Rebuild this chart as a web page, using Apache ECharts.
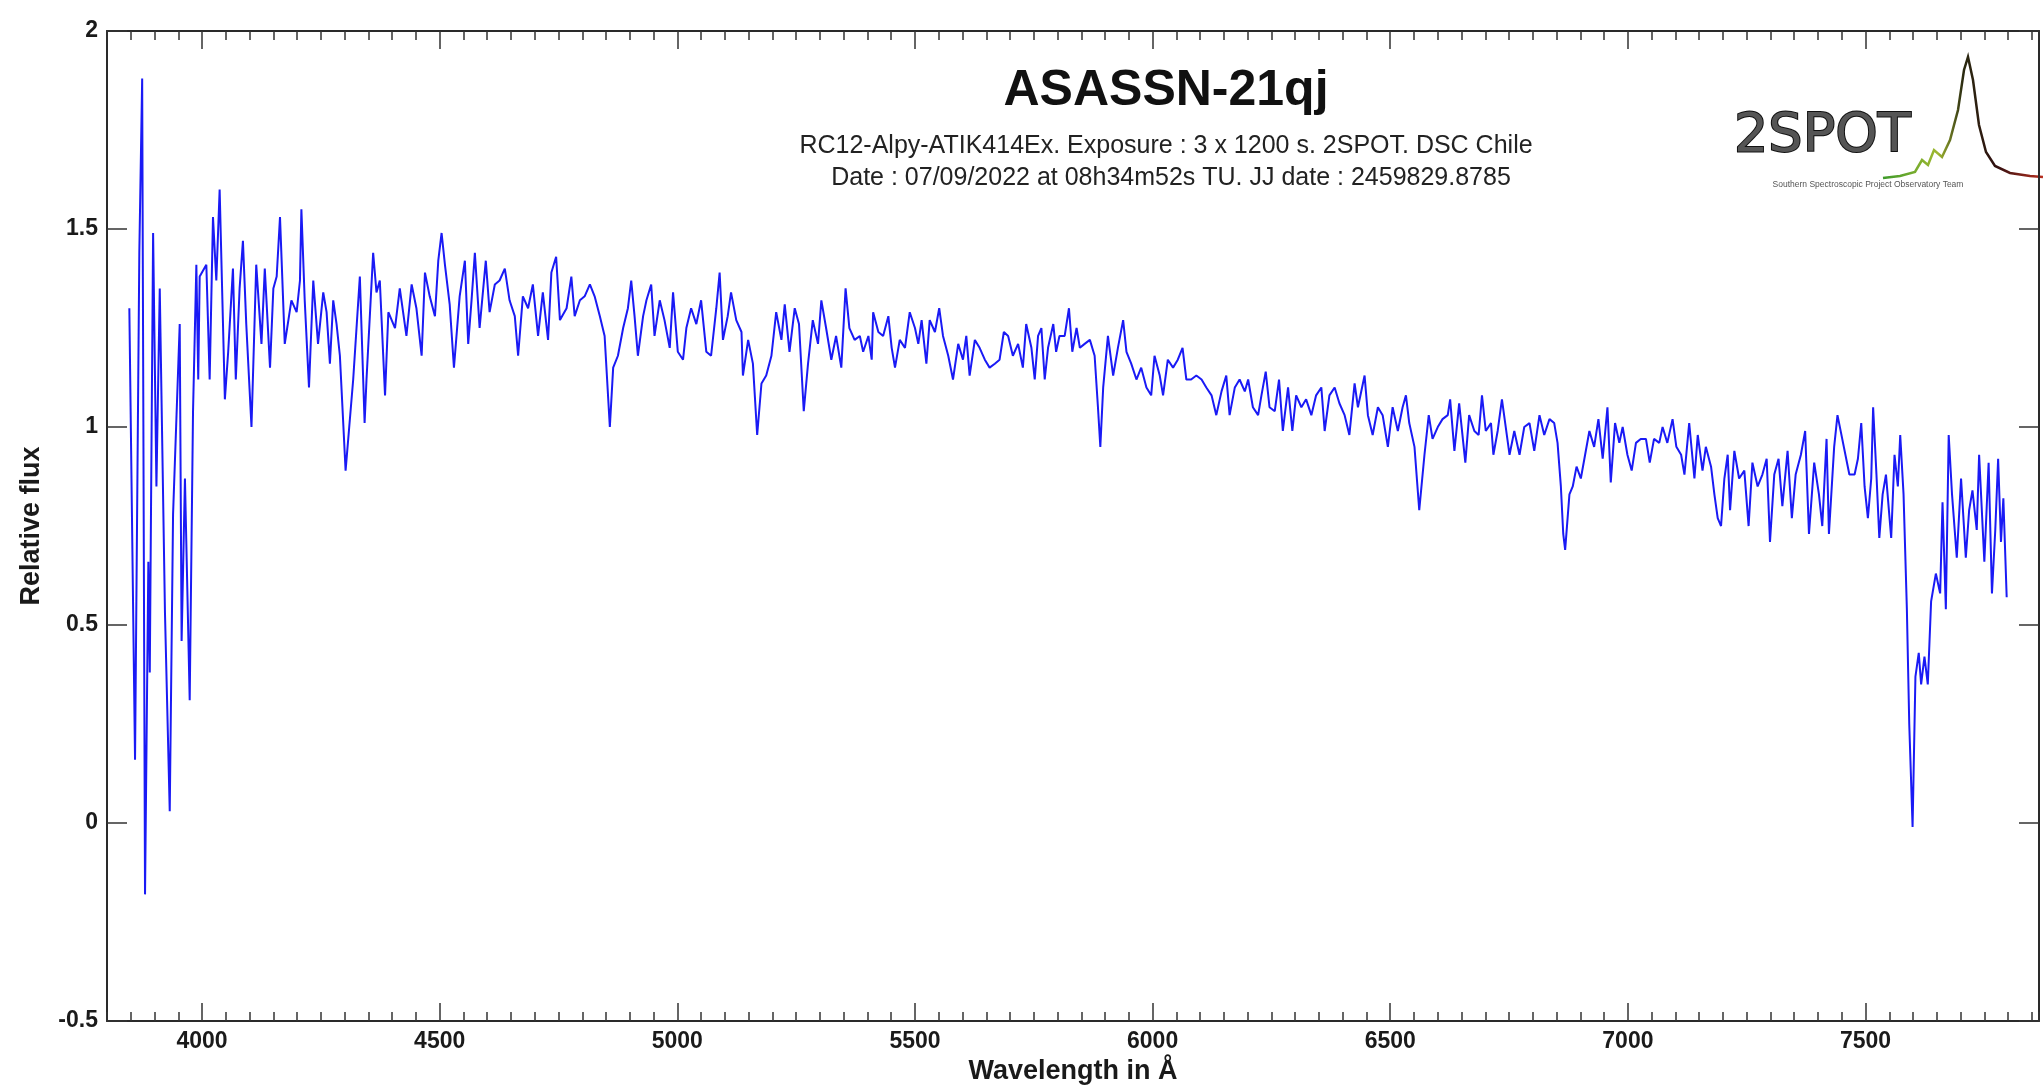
<!DOCTYPE html>
<html>
<head>
<meta charset="utf-8">
<script src="https://cdn.jsdelivr.net/npm/echarts@6/dist/echarts.min.js"></script>
<style>
html,body{margin:0;padding:0;background:#fff;}
#c{width:2043px;height:1090px;}
</style>
</head>
<body>
<div id="c"></div>
<script>
// Wavelength (Å) and relative flux
const wavelength = [
3847,3859,3868,3874,3880,3887,3890,3897,3904,3911,3922,3932,3939,3953,3957,3964,3974,3981,3988,3992,3995,
4009,4016,4023,4030,4037,4048,4055,4065,4071,4079,4086,4093,4104,4114,4125,4132,4143,4150,4157,4164,4174,
4188,4199,4206,4209,4216,4225,4234,4244,4255,4262,4269,4276,4283,4290,4302,4318,4332,4342,4346,4360,4367,
4374,4385,4392,4406,4416,4430,4441,4451,4462,4469,4479,4490,4497,4504,4511,4521,4530,4542,4553,4560,4567,
4574,4584,4597,4605,4616,4626,4637,4647,4658,4665,4675,4686,4696,4707,4717,4728,4735,4745,4753,4767,4777,
4784,4795,4805,4816,4826,4837,4847,4858,4865,4875,4886,4896,4903,4910,4917,4928,4935,4945,4952,4963,4973,
4984,4991,5001,5012,5019,5029,5040,5050,5061,5071,5082,5089,5096,5106,5113,5124,5135,5138,5149,5159,5168,
5177,5187,5198,5208,5219,5226,5236,5247,5256,5266,5275,5285,5296,5303,5313,5324,5334,5345,5354,5362,5373,
5384,5391,5402,5409,5412,5423,5433,5444,5451,5458,5468,5479,5489,5500,5507,5514,5524,5531,5542,5551,5559,
5570,5580,5591,5601,5608,5615,5626,5636,5647,5657,5668,5678,5687,5696,5706,5717,5727,5734,5745,5752,5759,
5766,5773,5780,5791,5797,5804,5815,5824,5831,5840,5847,5857,5868,5878,5885,5890,5896,5906,5917,5927,5938,
5945,5955,5966,5976,5987,5997,6004,6015,6022,6032,6043,6053,6063,6071,6081,6092,6103,6113,6124,6134,6145,
6155,6162,6173,6183,6194,6201,6211,6222,6229,6238,6246,6257,6266,6274,6285,6294,6302,6313,6323,6334,6344,
6355,6362,6372,6383,6393,6404,6414,6425,6432,6446,6453,6463,6474,6484,6495,6505,6516,6526,6533,6540,6551,
6561,6572,6581,6589,6600,6610,6621,6626,6635,6645,6658,6666,6677,6686,6693,6701,6712,6717,6726,6735,6743,
6751,6761,6772,6782,6793,6803,6814,6824,6835,6845,6852,6859,6864,6868,6877,6884,6892,6901,6910,6919,6929,
6938,6947,6957,6964,6973,6982,6989,6999,7008,7017,7027,7038,7046,7055,7066,7073,7083,7094,7102,7112,7119,
7129,7140,7147,7157,7164,7175,7182,7189,7196,7203,7210,7215,7224,7234,7245,7254,7262,7273,7283,7292,7299,
7308,7317,7325,7336,7345,7353,7364,7373,7381,7392,7402,7409,7418,7423,7434,7441,
7466,7477,7484,7491,7498,7505,7512,7516,7523,7529,7536,7543,7554,7561,7568,7573,7580,7587,7592,7599,7605,
7612,7617,7624,7631,7638,7648,7657,7662,7669,7675,7682,7692,7701,7711,7718,7725,7734,7739,7750,7759,7766,
7773,7779,7785,7790,7797
];
const flux = [
1.30,0.16,1.44,1.88,-0.18,0.66,0.38,1.49,0.85,1.35,0.53,0.03,0.78,1.26,0.46,0.87,0.31,1.04,1.41,1.12,1.38,
1.41,1.12,1.53,1.37,1.60,1.07,1.19,1.40,1.12,1.35,1.47,1.26,1.00,1.41,1.21,1.40,1.15,1.35,1.38,1.53,1.21,
1.32,1.29,1.37,1.55,1.32,1.10,1.37,1.21,1.34,1.29,1.16,1.32,1.26,1.18,0.89,1.12,1.38,1.01,1.12,1.44,1.34,
1.37,1.08,1.29,1.25,1.35,1.23,1.36,1.30,1.18,1.39,1.33,1.28,1.42,1.49,1.41,1.31,1.15,1.33,1.42,1.21,1.32,
1.44,1.25,1.42,1.29,1.36,1.37,1.40,1.32,1.28,1.18,1.33,1.30,1.36,1.23,1.34,1.22,1.39,1.43,1.27,1.30,1.38,
1.28,1.32,1.33,1.36,1.33,1.28,1.23,1.00,1.15,1.18,1.25,1.30,1.37,1.28,1.18,1.28,1.32,1.36,1.23,1.32,1.27,
1.20,1.34,1.19,1.17,1.25,1.30,1.26,1.32,1.19,1.18,1.30,1.39,1.22,1.28,1.34,1.27,1.24,1.13,1.22,1.16,0.98,
1.11,1.13,1.18,1.29,1.22,1.31,1.19,1.30,1.26,1.04,1.16,1.27,1.21,1.32,1.25,1.17,1.23,1.15,1.35,1.25,1.22,
1.23,1.19,1.23,1.17,1.29,1.24,1.23,1.28,1.20,1.15,1.22,1.20,1.29,1.25,1.21,1.27,1.16,1.27,1.24,1.30,1.23,
1.18,1.12,1.21,1.17,1.23,1.13,1.22,1.20,1.17,1.15,1.16,1.17,1.24,1.23,1.18,1.21,1.15,1.26,1.20,1.12,1.23,
1.25,1.12,1.20,1.26,1.19,1.23,1.23,1.30,1.19,1.25,1.20,1.21,1.22,1.18,1.05,0.95,1.10,1.23,1.13,1.20,1.27,
1.19,1.16,1.12,1.15,1.10,1.08,1.18,1.13,1.08,1.17,1.15,1.17,1.20,1.12,1.12,1.13,1.12,1.10,1.08,1.03,1.09,
1.13,1.03,1.10,1.12,1.09,1.12,1.05,1.03,1.08,1.14,1.05,1.04,1.12,0.99,1.10,0.99,1.08,1.05,1.07,1.03,1.08,
1.10,0.99,1.08,1.10,1.06,1.03,0.98,1.11,1.05,1.13,1.03,0.98,1.05,1.03,0.95,1.05,0.99,1.05,1.08,1.01,0.95,
0.79,0.93,1.03,0.97,1.00,1.02,1.03,1.07,0.94,1.06,0.91,1.03,0.99,0.98,1.08,0.99,1.01,0.93,0.99,1.07,1.00,
0.93,0.99,0.93,1.00,1.01,0.94,1.03,0.98,1.02,1.01,0.96,0.85,0.73,0.69,0.83,0.85,0.90,0.87,0.93,0.99,0.95,
1.02,0.92,1.05,0.86,1.01,0.96,1.00,0.93,0.89,0.96,0.97,0.97,0.91,0.97,0.96,1.00,0.96,1.02,0.95,0.93,0.88,
1.01,0.87,0.98,0.89,0.95,0.90,0.83,0.77,0.75,0.87,0.93,0.79,0.94,0.87,0.89,0.75,0.91,0.85,0.88,0.92,0.71,
0.88,0.92,0.80,0.94,0.77,0.88,0.93,0.99,0.73,0.91,0.83,0.75,0.97,0.73,0.95,1.03,
0.88,0.88,0.92,1.01,0.85,0.77,0.87,1.05,0.88,0.72,0.83,0.88,0.72,0.93,0.85,0.98,0.83,0.54,0.25,-0.01,0.37,
0.43,0.35,0.42,0.35,0.56,0.63,0.58,0.81,0.54,0.98,0.83,0.67,0.87,0.67,0.79,0.84,0.74,0.93,0.66,0.91,0.58,
0.74,0.92,0.71,0.82,0.57
];
const xMajorTicks = [4000, 4500, 5000, 5500, 6000, 6500, 7000, 7500];
const xRange = [3800, 7865];
const yRange = [-0.5, 2];
const yStep = 0.5;

const titleText = 'ASASSN-21qj';
const subtitleLines = [
  'RC12-Alpy-ATIK414Ex. Exposure : 3 x 1200 s. 2SPOT. DSC Chile',
  'Date : 07/09/2022 at 08h34m52s TU. JJ date : 2459829.8785'
];

const seriesData = wavelength.map((w, i) => [w, flux[i]]);
const FONT = 'Liberation Sans, Arial, Helvetica, sans-serif';
const axisColor = '#2a2a2a';

const chart = echarts.init(document.getElementById('c'), null, {renderer: 'canvas'});

const baseX = (pos) => ({
  type: 'value', min: xRange[0], max: xRange[1], position: pos,
  splitLine: {show: false}
});

chart.setOption({
  animation: false,
  backgroundColor: '#ffffff',
  grid: {left: 107, right: 4, top: 31, bottom: 61, containLabel: false},
  xAxis: [
    Object.assign(baseX('bottom'), {
      interval: 50,
      axisLine: {show: true, onZero: false, lineStyle: {color: axisColor, width: 2}},
      axisTick: {show: true, inside: true, length: 9, lineStyle: {color: '#333', width: 1.5}},
      axisLabel: {show: false}
    }),
    Object.assign(baseX('bottom'), {
      axisLine: {show: false, onZero: false},
      axisTick: {show: true, inside: true, length: 18, customValues: xMajorTicks, lineStyle: {color: '#333', width: 1.5}},
      axisLabel: {show: true, customValues: xMajorTicks, margin: 9, color: '#1a1a1a', fontSize: 23, fontWeight: 'bold', fontFamily: FONT,
        formatter: (v) => String(v)},
      name: 'Wavelength in Å', nameLocation: 'middle', nameGap: 34,
      nameTextStyle: {color: '#1a1a1a', fontSize: 27, fontWeight: 'bold', fontFamily: FONT}
    }),
    Object.assign(baseX('top'), {
      interval: 50,
      axisLine: {show: true, onZero: false, lineStyle: {color: axisColor, width: 2}},
      axisTick: {show: true, inside: true, length: 9, lineStyle: {color: '#333', width: 1.5}},
      axisLabel: {show: false}
    }),
    Object.assign(baseX('top'), {
      axisLine: {show: false, onZero: false},
      axisTick: {show: true, inside: true, length: 18, customValues: xMajorTicks, lineStyle: {color: '#333', width: 1.5}},
      axisLabel: {show: false}
    })
  ],
  yAxis: [
    {
      type: 'value', min: yRange[0], max: yRange[1], interval: yStep, position: 'left',
      splitLine: {show: false},
      axisLine: {show: true, onZero: false, lineStyle: {color: axisColor, width: 2}},
      axisTick: {show: true, inside: true, length: 20, lineStyle: {color: '#333', width: 1.5}},
      axisLabel: {show: true, margin: 9, color: '#1a1a1a', fontSize: 23, fontWeight: 'bold', fontFamily: FONT,
        formatter: (v) => String(v)},
      name: 'Relative flux', nameLocation: 'middle', nameGap: 62, nameRotate: 90,
      nameTextStyle: {color: '#1a1a1a', fontSize: 27, fontWeight: 'bold', fontFamily: FONT}
    },
    {
      type: 'value', min: yRange[0], max: yRange[1], interval: yStep, position: 'right',
      splitLine: {show: false},
      axisLine: {show: true, onZero: false, lineStyle: {color: axisColor, width: 2}},
      axisTick: {show: true, inside: true, length: 20, lineStyle: {color: '#333', width: 1.5}},
      axisLabel: {show: false}
    }
  ],
  series: [{
    type: 'line',
    xAxisIndex: 0, yAxisIndex: 0,
    data: seriesData,
    showSymbol: false,
    symbol: 'none',
    lineStyle: {color: '#1a1af5', width: 2},
    z: 3
  }],
  graphic: [
    {type: 'text', style: {text: titleText, x: 1166, y: 91, align: 'center', verticalAlign: 'middle', font: 'bold 50px ' + FONT, fill: '#111'}},
    {type: 'text', style: {text: subtitleLines[0], x: 1166, y: 146, align: 'center', verticalAlign: 'middle', font: '25px ' + FONT, fill: '#222'}},
    {type: 'text', style: {text: subtitleLines[1], x: 1171, y: 178, align: 'center', verticalAlign: 'middle', font: '25px ' + FONT, fill: '#222'}},
    // 2SPOT logo
    {type: 'text', style: {text: '2SPOT', x: 1734, y: 137, align: 'left', verticalAlign: 'middle', font: '54px DejaVu Sans, sans-serif', fill: '#555', stroke: '#111', lineWidth: 2}},
    {type: 'polyline', shape: {points: [[1883,178],[1900,176],[1915,172],[1922,160],[1928,165],[1934,150],[1942,157],[1950,140],[1958,110],[1964,70],[1968,57],[1973,80],[1979,125],[1986,152],[1995,166],[2010,173],[2030,176],[2043,177]]},
      style: {stroke: new echarts.graphic.LinearGradient(0,0,1,0,[{offset:0,color:'#3a9a2a'},{offset:0.35,color:'#a0b830'},{offset:0.5,color:'#2a2a10'},{offset:0.7,color:'#301010'},{offset:1,color:'#c03020'}], false), lineWidth: 2.5, fill: null}},
    {type: 'text', style: {text: 'Southern Spectroscopic Project Observatory Team', x: 1868, y: 185, align: 'center', verticalAlign: 'middle', font: '8.5px ' + FONT, fill: '#555'}}
  ]
});
</script>
</body>
</html>
